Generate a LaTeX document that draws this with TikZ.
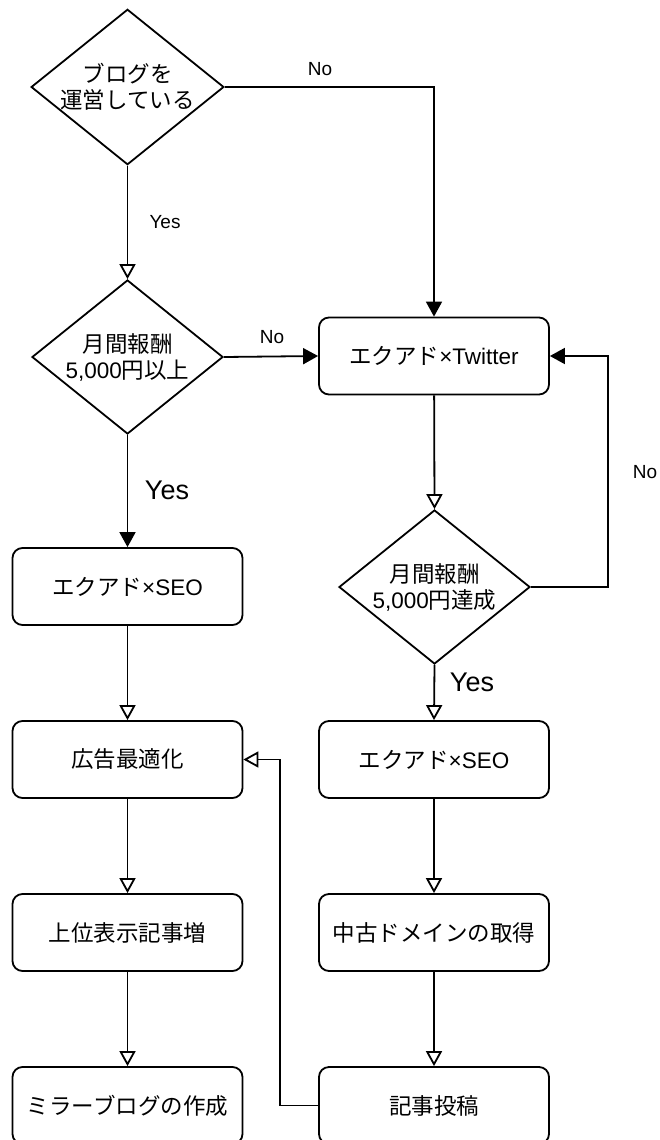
\documentclass[tikz,border=0pt]{standalone}
\usepackage{fontspec}
\setmainfont{Liberation Sans}
\newfontfamily\jp{Noto Sans CJK JP}
\usetikzlibrary{shapes.geometric,arrows.meta}
\tikzset{process/.style = {draw, line width=1.8pt, rounded corners=10pt, minimum width=230pt, minimum height=77pt, align=center, font=\fontsize{22.5}{26}\selectfont},
         decision/.style = {draw, diamond, aspect=1.24, line width=1.8pt, minimum width=191pt, minimum height=154pt, inner sep=0pt, align=center, font=\fontsize{22.5}{26}\selectfont},
         openarrow/.style = {line width=1.8pt, -{Triangle[open, length=15pt, width=16pt]}},
         fillarrow/.style = {line width=1.8pt, -{Triangle[length=15pt, width=16pt]}},
         lbl/.style = {font=\fontsize{19}{22}\selectfont},
         biglbl/.style = {font=\fontsize{27}{30}\selectfont}}

\begin{document}
\begin{tikzpicture}[x=1pt, y=-1pt]
      \clip (0,0) rectangle (660,1140);
      % left column
      \node [decision] (blog) at (127.5, 87) {{\jp ブログを}\\{\jp 運営している}};
      \node [decision] (pay) at (127.5, 357) {{\jp 月間報酬}\\5,000{\jp 円以上}};
      \node [process] (seoL) at (127.5, 586.5) {{\jp エクアド}×SEO};
      \node [process] (adopt) at (127.5, 759.5) {\jp 広告最適化};
      \node [process] (rank) at (127.5, 932.5) {\jp 上位表示記事増};
      \node [process] (mirror) at (127.5, 1105.5) {\jp ミラーブログの作成};
      % right column
      \node [process] (tw) at (434, 356) {{\jp エクアド}×Twitter};
      \node [decision] (goal) at (434.5, 587) {{\jp 月間報酬}\\5,000{\jp 円達成}};
      \node [process] (seoR) at (434, 759.5) {{\jp エクアド}×SEO};
      \node [process] (domain) at (434, 932.5) {\jp 中古ドメインの取得};
      \node [process] (post) at (434, 1105.5) {\jp 記事投稿};

      \draw [openarrow] (blog.south) -- (pay.north);
      \draw [fillarrow] (blog.east) -| (tw.north);
      \draw [fillarrow] (pay.east) -- (tw.west);
      \draw [fillarrow] (pay.south) -- (seoL.north);
      \draw [openarrow] (seoL) -- (adopt);
      \draw [openarrow] (adopt) -- (rank);
      \draw [openarrow] (rank) -- (mirror);
      \draw [openarrow] (tw) -- (goal.north);
      \draw [fillarrow] (goal.east) -- ++(77,0) |- (tw.east);
      \draw [openarrow] (goal.south) -- (seoR.north);
      \draw [openarrow] (seoR) -- (domain);
      \draw [openarrow] (domain) -- (post);
      \draw [openarrow] (post.west) -- ++(-38,0) |- (adopt.east);

      \node [lbl] at (165, 222) {Yes};
      \node [lbl] at (320, 69) {No};
      \node [lbl] at (272, 337) {No};
      \node [lbl] at (645, 472) {No};
      \node [biglbl] at (167, 490) {Yes};
      \node [biglbl] at (472, 682) {Yes};
    \end{tikzpicture}
\end{document}
